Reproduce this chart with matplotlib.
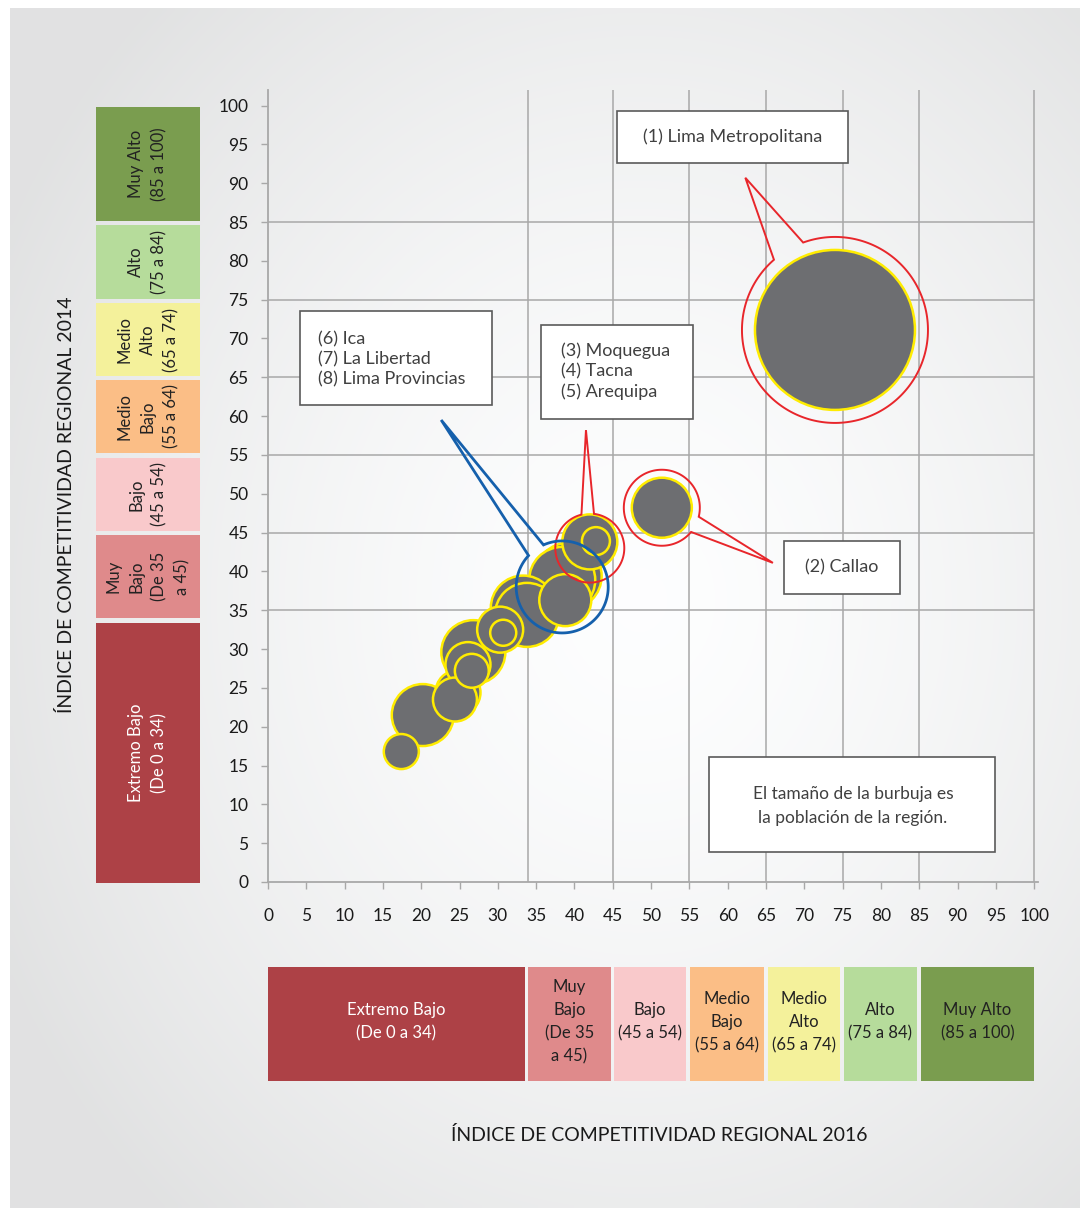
import numpy as np
import matplotlib
matplotlib.use("Agg")
import matplotlib.pyplot as plt
from matplotlib.patches import Rectangle, Polygon

plt.rcParams['font.family'] = ['Lato', 'DejaVu Sans']

# ---- datos ----
icr_2016 = [74.0, 51.4, 42.0, 42.8, 39.2, 38.4, 38.8, 33.3, 33.8, 30.7, 30.3,
            26.8, 26.1, 26.6, 24.8, 24.4, 20.2, 17.4]
icr_2014 = [71.1, 48.2, 43.8, 43.9, 39.4, 38.9, 36.3, 35.3, 34.4, 32.1, 32.5,
            29.6, 28.0, 27.2, 24.4, 23.5, 21.5, 16.8]
poblacion = [9800, 1380, 1160, 300, 1700, 1670, 1035, 1600, 1570, 260, 810,
             1570, 775, 440, 775, 740, 1470, 470]  # miles (aprox.)

ticks = list(range(0, 101, 5))
grid_x = [34, 45, 55, 65, 75, 85, 100]
grid_y = [35, 45, 55, 65, 75, 85]

categorias = ["Extremo Bajo", "Muy Bajo", "Bajo", "Medio Bajo", "Medio Alto", "Alto", "Muy Alto"]
colores = ["#ad4146", "#df8a8b", "#f9c9cb", "#fbbe86", "#f4f19b", "#b6dc9b", "#7a9d4f"]
txt_col = ["white", "#222222", "#222222", "#222222", "#222222", "#222222", "#222222"]
etq_y = ["Extremo Bajo\n(De 0 a 34)", "Muy\nBajo\n(De 35\na 45)", "Bajo\n(45 a 54)",
         "Medio\nBajo\n(55 a 64)", "Medio\nAlto\n(65 a 74)", "Alto\n(75 a 84)", "Muy Alto\n(85 a 100)"]
etq_x = ["Extremo Bajo\n(De 0 a 34)", "Muy\nBajo\n(De 35\na 45)", "Bajo\n(45 a 54)",
         "Medio\nBajo\n(55 a 64)", "Medio\nAlto\n(65 a 74)", "Alto\n(75 a 84)", "Muy Alto\n(85 a 100)"]

W, H = 1086, 1211
fig = plt.figure(figsize=(W / 100, H / 100), dpi=100)
fig.patch.set_facecolor("white")

# fondo con degradado
bg = fig.add_axes([0, 0, 1, 1])
bg.set_xlim(0, W)
bg.set_ylim(H, 0)
bg.axis("off")
gx, gy = np.meshgrid(np.linspace(10, 1080, 200), np.linspace(8, 1208, 220))
d = np.sqrt(((gx - 640) / 620) ** 2 + ((gy - 600) / 720) ** 2)
v = 0.998 - 0.09 * np.clip(d, 0, 1.15) ** 1.5
img = np.dstack([v * 0.995, v * 0.998, v, np.ones_like(v)])
img = np.clip(img, 0, 1)
bg.imshow(img, extent=(10, 1080, 1208, 8), aspect="auto", interpolation="bilinear")

# eje principal
ax = fig.add_axes([268 / W, (H - 882) / H, 770 / W, 792 / H])
ax.set_facecolor("none")
ax.set_xlim(0, 100.5)
ax.set_ylim(0, 102)
for s in ["top", "right"]:
    ax.spines[s].set_visible(False)
for s in ["left", "bottom"]:
    ax.spines[s].set_color("#a8a8a8")
    ax.spines[s].set_linewidth(1.3)
ax.set_xticks(ticks)
ax.set_yticks(ticks)
ax.tick_params(axis="both", colors="#a8a8a8", labelcolor="#1a1a1a",
               labelsize=12.5, length=5, width=1)
ax.tick_params(axis="y", pad=9)
ax.tick_params(axis="x", pad=14)

ax.vlines(grid_x, 0, 102, color="#a8a8a8", lw=1.1, zorder=1)
ax.hlines(grid_y, 0, 100, color="#a8a8a8", lw=1.1, zorder=1)

# burbujas: area proporcional a la poblacion
escala = 1.354
orden = np.argsort(poblacion)[::-1]
ax.scatter(np.array(icr_2016)[orden], np.array(icr_2014)[orden],
           s=np.array(poblacion)[orden] * escala, c="#6d6e71",
           edgecolors="#ffec00", linewidths=1.8, zorder=3)


def callout(center, r_px, a1, a2, apex, color, lw):
    # circulo (en pixeles) con una cuna que apunta al texto
    c = ax.transData.transform(center)
    ang = np.radians(np.linspace(a2, a1 + 360, 200))
    pts = np.column_stack([c[0] + r_px * np.cos(ang), c[1] + r_px * np.sin(ang)])
    a = ax.transData.transform(apex)
    pts = np.vstack([pts, a])
    pts = ax.transData.inverted().transform(pts)
    ax.add_patch(Polygon(pts, closed=True, fill=False, edgecolor=color, lw=lw, zorder=4))


fig.canvas.draw()
callout((74.0, 71.1), 93, 110, 131, (62.3, 90.7), "#e8262b", 1.4)
callout((51.4, 48.2), 38, -39.6, -13.7, (65.9, 41.1), "#e8262b", 1.4)
callout((42.0, 43.0), 34.5, 83, 104, (41.5, 58.2), "#e8262b", 1.4)
callout((38.4, 38.0), 46, 114, 137, (22.6, 59.5), "#1560ac", 2.0)

# capa superior para cajas y textos
ov = fig.add_axes([0, 0, 1, 1])
ov.patch.set_alpha(0)
ov.set_xlim(0, W)
ov.set_ylim(H, 0)
ov.axis("off")


def caja(x0, y0, x1, y1):
    ov.add_patch(Rectangle((x0, y0), x1 - x0, y1 - y0, facecolor="white",
                           edgecolor="#5a5a5a", lw=1.2, zorder=5))


tc = "#404040"
caja(617, 111, 848, 163)
ov.text(733, 137, "(1) Lima Metropolitana", ha="center", va="center", fontsize=13, color=tc, zorder=6)
caja(784, 541, 900, 594)
ov.text(842, 567, "(2) Callao", ha="center", va="center", fontsize=13, color=tc, zorder=6)
caja(541, 325, 693, 419)
ov.text(561, 371, "(3) Moquegua\n(4) Tacna\n(5) Arequipa", ha="left", va="center",
        fontsize=13, color=tc, linespacing=1.3, zorder=6)
caja(300, 311, 492, 405)
ov.text(318, 359, "(6) Ica\n(7) La Libertad\n(8) Lima Provincias", ha="left", va="center",
        fontsize=13, color=tc, linespacing=1.3, zorder=6)
caja(709, 757, 995, 852)
ov.text(853, 806, "El tamaño de la burbuja es\nla población de la región.", ha="center",
        va="center", fontsize=12.5, color=tc, linespacing=1.6, zorder=6)

# cajas de categorias (eje y)
ys = [(623, 883), (535, 618), (458, 531), (380, 453), (303, 376), (225, 299), (107, 221)]
for (y0, y1), col, tcol, lab in zip(ys, colores, txt_col, etq_y):
    ov.add_patch(Rectangle((96, y0), 104, y1 - y0, facecolor=col, edgecolor="none"))
    ov.text(148, (y0 + y1) / 2, lab, rotation=90, ha="center", va="center",
            fontsize=12, color=tcol, linespacing=1.55, multialignment="center")

# cajas de categorias (eje x)
xs = [(268, 525), (528, 611), (614, 686), (690, 764), (768, 840), (844, 917), (921, 1034)]
for (x0, x1), col, tcol, lab in zip(xs, colores, txt_col, etq_x):
    ov.add_patch(Rectangle((x0, 967), x1 - x0, 114, facecolor=col, edgecolor="none"))
    ov.text((x0 + x1) / 2, 1022, lab, ha="center", va="center",
            fontsize=12, color=tcol, linespacing=1.55, multialignment="center")

ov.text(659, 1135, "ÍNDICE DE COMPETITIVIDAD REGIONAL 2016", ha="center", va="center",
        fontsize=14, color="#1a1a1a")
ov.text(66, 505, "ÍNDICE DE COMPETITIVIDAD REGIONAL 2014", ha="center", va="center",
        rotation=90, fontsize=14, color="#1a1a1a")

fig.savefig("out.png", dpi=100)
